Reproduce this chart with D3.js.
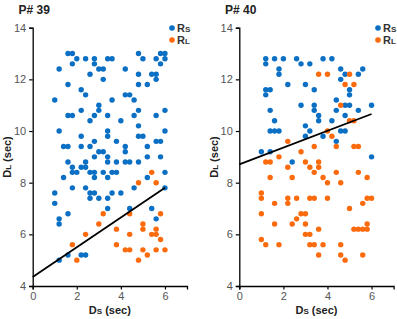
<!DOCTYPE html>
<html><head><meta charset="utf-8">
<script src="https://cdn.jsdelivr.net/npm/d3@7"></script>
<style>body{margin:0;background:#fff}svg{display:block}</style>
</head><body><svg id="c" width="397" height="319"></svg>
<script>
// Data rows: [DL value, [DS values...]]
const p39Rs = [
 [13.0,[1.6,1.8,4.8,5.8,6.0]],
 [12.8,[2.0,2.4,2.8,3.4,3.6,5.0,5.6,6.0]],
 [12.6,[1.8,2.8,5.8]],
 [12.4,[1.2,3.0,3.2,4.2]],
 [12.2,[2.6,4.8,5.4,5.6]],
 [12.0,[3.2,5.6]],
 [11.8,[1.6,4.8,5.2]],
 [11.6,[2.2]],
 [11.4,[2.4,4.2,4.4]],
 [11.2,[1.0,3.6,4.6]],
 [11.0,[3.0]],
 [10.8,[2.2,3.0,4.8,6.0]],
 [10.6,[1.6,1.8,2.8,3.4,4.6,5.6]],
 [10.4,[2.6,4.0]],
 [10.2,[4.8]],
 [10.0,[1.2,3.4,6.0]],
 [9.8,[2.2,3.4,4.8,5.0]],
 [9.6,[2.8,3.8,5.6,5.8]],
 [9.4,[1.4,1.6,2.2,2.6,4.2,5.2]],
 [9.2,[3.0,3.2,4.2]],
 [9.0,[2.8,3.4,5.2,5.8]],
 [8.8,[1.6,2.4,3.4,3.8,4.2,4.4,4.8]],
 [8.6,[1.8,2.2,2.4]],
 [8.4,[1.8,2.0,2.6,2.8,3.2,3.6,3.8,6.0]],
 [8.2,[1.4,2.8,3.4,5.2]],
 [7.8,[1.8,2.4,4.6,6.0]],
 [7.6,[1.0,2.6,2.8,3.6,4.0]],
 [7.4,[2.6,3.0,3.4]],
 [7.2,[1.0]],
 [7.0,[3.4,4.4,5.4]],
 [6.8,[1.6]],
 [6.6,[1.2,5.6]],
 [6.4,[1.2]],
 [5.2,[1.6,2.2,2.4]],
 [5.0,[1.2]]
];
const p39Rl = [
 [8.4,[5.4]],
 [8.0,[4.8,5.6]],
 [6.8,[3.2,4.4,5.8]],
 [6.4,[3.0,5.0]],
 [6.2,[3.8,5.0,5.6]],
 [6.0,[2.4,4.4,5.4,5.6]],
 [5.8,[5.8]],
 [5.6,[1.8,3.8]],
 [5.4,[4.2,4.4,5.0,5.6,6.0]],
 [5.2,[5.2]],
 [5.0,[2.0,4.8]]
];
const p40Rs = [
 [12.8,[1.2,1.6,2.0,2.6,3.8,4.2]],
 [12.6,[1.2,2.8,3.2]],
 [12.4,[1.8,4.6,5.6]],
 [12.2,[1.8,4.8,5.4]],
 [12.0,[4.6]],
 [11.8,[2.2,3.0]],
 [11.6,[1.2,1.4,3.4,5.0]],
 [11.4,[1.2,5.0]],
 [11.2,[4.4]],
 [11.0,[2.8,3.4,4.8,5.0,6.0]],
 [10.8,[1.4,3.4,4.4,5.4]],
 [10.6,[3.6,4.8]],
 [10.4,[1.6,3.6,4.2]],
 [10.2,[3.0]],
 [10.0,[1.4,1.6,1.8,3.2,4.6,4.8]],
 [9.8,[3.0,3.8]],
 [9.6,[4.4]],
 [9.2,[1.0,1.4]],
 [9.0,[6.0]],
 [8.8,[2.4]]
];
const p40Rl = [
 [12.2,[3.6,4.0,5.0]],
 [11.8,[4.8,5.2]],
 [11.0,[4.6]],
 [10.4,[5.0,5.2]],
 [10.0,[4.0]],
 [9.8,[4.2]],
 [9.6,[2.2]],
 [9.4,[3.4,4.4,5.2,5.4]],
 [9.2,[2.8]],
 [9.0,[1.8]],
 [8.8,[1.2,1.4,3.0,3.6]],
 [8.6,[2.2,3.2,3.6]],
 [8.4,[3.4,4.4,5.4]],
 [8.2,[1.4,2.4,3.8,5.8]],
 [8.0,[4.0,4.6]],
 [7.6,[1.0]],
 [7.4,[1.0,2.2,2.6,3.2,3.4,4.0,5.8,6.0]],
 [7.2,[1.6,2.2,5.6]],
 [7.0,[5.0]],
 [6.8,[1.0,2.8,3.0]],
 [6.6,[2.6]],
 [6.4,[1.6,2.4,3.0,5.8]],
 [6.2,[3.6,5.2,5.4,5.6,5.8]],
 [6.0,[3.0,3.2]],
 [5.8,[1.0]],
 [5.6,[1.2,1.8,3.2,3.4,3.8,4.6]],
 [5.2,[3.6,4.6,5.6]],
 [5.0,[4.8]]
];
// regression lines: [x0, y0, x1, y1]
const p39Fit = [0, 4.35, 6, 7.8];
const p40Fit = [0, 8.71, 6, 10.66];
const titles = ["P# 39", "P# 40"];
const xTicks = [0, 2, 4, 6];
const yTicks = [4, 6, 8, 10, 12, 14];
const xDomain = [0, 7];
const yDomain = [4, 14];

const BLUE = "#0b6fc4", ORANGE = "#fb6a0c";
const svg = d3.select("#c");
const font = "Liberation Sans, Arial, sans-serif";

function flat(rows){ const o=[]; rows.forEach(([y,xs])=>xs.forEach(x=>o.push([x,y]))); return o; }

function panel(ox, title, rs, rl, fit){
  const x = d3.scaleLinear().domain(xDomain).range([ox+32.7, ox+187]);
  const y = d3.scaleLinear().domain(yDomain).range([286, 27.7]);
  const g = svg.append("g");
  g.append("text").attr("x", ox+18.5).attr("y", 14).attr("font-family", font)
    .attr("font-weight","bold").attr("font-size", 12).attr("fill","#222").text(title);

  const ya = g.append("g").attr("transform", `translate(${x(0)},0)`)
    .call(d3.axisLeft(y).tickValues(yTicks).tickSize(3.5).tickPadding(3).tickFormat(d3.format("d")));
  const xa = g.append("g").attr("transform", `translate(0,${y(4)})`)
    .call(d3.axisBottom(x).tickValues(xTicks).tickSize(3.5).tickPadding(3).tickFormat(d3.format("d")));
  [ya, xa].forEach(a=>{
    a.select(".domain").attr("stroke","#000").attr("stroke-width",1.3);
    a.selectAll(".tick line").attr("stroke","#000").attr("stroke-width",1.2);
    a.selectAll(".tick text").attr("font-family",font).attr("font-size",11).attr("fill","#555");
  });

  g.selectAll(".rs").data(flat(rs)).enter().append("circle")
    .attr("cx", d=>x(d[0])).attr("cy", d=>y(d[1])).attr("r", 2.7).attr("fill", BLUE);
  g.selectAll(".rl").data(flat(rl)).enter().append("circle")
    .attr("cx", d=>x(d[0])).attr("cy", d=>y(d[1])).attr("r", 2.7).attr("fill", ORANGE);

  g.append("line").attr("x1", x(fit[0])).attr("y1", y(fit[1])).attr("x2", x(fit[2])).attr("y2", y(fit[3]))
    .attr("stroke","#000").attr("stroke-width",1.8);

  // axis titles
  const xt = g.append("text").attr("x", x(3.5)).attr("y", 314).attr("text-anchor","middle")
    .attr("font-family",font).attr("font-weight","bold").attr("font-size",11).attr("fill","#222");
  xt.append("tspan").text("D");
  xt.append("tspan").attr("font-size",8).text("S");
  xt.append("tspan").text(" (sec)");
  const yt = g.append("text").attr("transform", `translate(${ox+11},157) rotate(-90)`).attr("text-anchor","middle")
    .attr("font-family",font).attr("font-weight","bold").attr("font-size",11).attr("fill","#222");
  yt.append("tspan").text("D");
  yt.append("tspan").attr("font-size",8).text("L");
  yt.append("tspan").text(" (sec)");

  // legend
  const lx = x(0) + (ox===0 ? 139.3 : 138.7);
  [["S",BLUE,28],["L",ORANGE,40]].forEach(([s,c,ly])=>{
    g.append("circle").attr("cx", lx).attr("cy", ly).attr("r", 2.8).attr("fill", c);
    const t = g.append("text").attr("x", lx+5).attr("y", ly+4).attr("font-family",font)
      .attr("font-weight","bold").attr("font-size",11).attr("fill","#333");
    t.append("tspan").text("R");
    t.append("tspan").attr("font-size",8).text(s);
  });
}
panel(0, titles[0], p39Rs, p39Rl, p39Fit);
panel(206.6, titles[1], p40Rs, p40Rl, p40Fit);
</script></body></html>
